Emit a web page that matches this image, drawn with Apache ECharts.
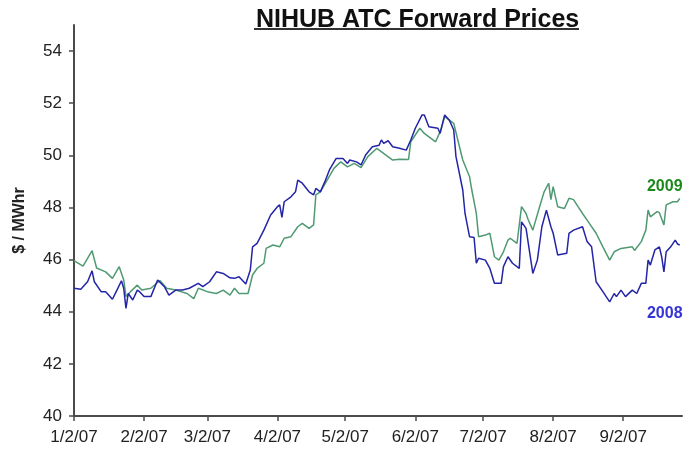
<!DOCTYPE html>
<html>
<head>
<meta charset="utf-8">
<script src="https://cdn.jsdelivr.net/npm/echarts@6/dist/echarts.min.js"></script>
<style>
  html, body { margin: 0; padding: 0; background: #fff; }
  #chart { width: 695px; height: 455px; }
</style>
</head>
<body>
<div id="chart"></div>
<script>
// tick labels
const tickDates = ['1/2/07', '2/2/07', '3/2/07', '4/2/07', '5/2/07', '6/2/07', '7/2/07', '8/2/07', '9/2/07'];
const yTicks = [40, 42, 44, 46, 48, 50, 52, 54];

// 2008 strip
const dates2008 = [
  '1/2/07', '1/5/07', '1/8/07', '1/10/07', '1/11/07', '1/14/07', '1/16/07', '1/19/07', '1/21/07', '1/23/07',
  '1/24/07', '1/25/07', '1/26/07', '1/28/07', '1/30/07', '1/31/07', '2/2/07', '2/5/07', '2/8/07', '2/11/07',
  '2/13/07', '2/16/07', '2/19/07', '2/22/07', '2/26/07', '2/28/07', '3/3/07', '3/6/07', '3/9/07', '3/12/07',
  '3/14/07', '3/16/07', '3/19/07', '3/21/07', '3/22/07', '3/24/07', '3/27/07', '3/30/07', '4/2/07', '4/3/07',
  '4/4/07', '4/5/07', '4/8/07', '4/10/07', '4/11/07', '4/13/07', '4/16/07', '4/18/07', '4/19/07', '4/21/07',
  '4/23/07', '4/25/07', '4/28/07', '5/1/07', '5/3/07', '5/4/07', '5/7/07', '5/9/07', '5/11/07', '5/14/07',
  '5/17/07', '5/18/07', '5/19/07', '5/21/07', '5/23/07', '5/26/07', '5/29/07', '5/31/07', '6/2/07', '6/5/07',
  '6/6/07', '6/8/07', '6/12/07', '6/13/07', '6/15/07', '6/17/07', '6/19/07', '6/20/07', '6/23/07', '6/24/07',
  '6/26/07', '6/28/07', '6/29/07', '6/30/07', '7/3/07', '7/5/07', '7/7/07', '7/10/07', '7/11/07', '7/13/07',
  '7/15/07', '7/18/07', '7/19/07', '7/21/07', '7/22/07', '7/24/07', '7/26/07', '7/28/07', '7/30/07', '8/1/07',
  '8/2/07', '8/4/07', '8/8/07', '8/9/07', '8/11/07', '8/15/07', '8/17/07', '8/19/07', '8/21/07', '8/24/07',
  '8/27/07', '8/29/07', '8/30/07', '9/1/07', '9/3/07', '9/6/07', '9/8/07', '9/10/07', '9/12/07', '9/13/07',
  '9/14/07', '9/16/07', '9/18/07', '9/19/07', '9/20/07', '9/21/07', '9/23/07', '9/25/07', '9/26/07', '9/27/07'
];
const price2008 = [
  44.9, 44.86, 45.15, 45.57, 45.15, 44.77, 44.77, 44.48, 44.83, 45.19,
  44.9, 44.13, 44.7, 44.45, 44.83, 44.77, 44.58, 44.58, 45.22, 44.96,
  44.64, 44.83, 44.83, 44.9, 45.09, 44.96, 45.15, 45.53, 45.47, 45.3,
  45.28, 45.34, 45.06, 45.6, 46.49, 46.62, 47.13, 47.71, 48.03, 48.1,
  47.62, 48.22, 48.41, 48.6, 49.05, 48.93, 48.6, 48.48, 48.73, 48.6,
  48.99, 49.44, 49.88, 49.88, 49.69, 49.82, 49.75, 49.63, 50.01, 50.33,
  50.39, 50.59, 50.46, 50.56, 50.33, 50.27, 50.2, 50.59, 51.04, 51.55,
  51.55, 51.1, 51.04, 50.84, 51.55, 51.36, 50.97, 49.95, 48.67, 47.77,
  46.88, 46.85, 45.86, 46.05, 45.98, 45.66, 45.09, 45.09, 45.73, 46.11,
  45.86, 45.66, 47.45, 47.2, 46.62, 45.47, 45.98, 47.26, 47.9, 47.26,
  47.01, 46.18, 46.24, 47.01, 47.13, 47.26, 46.69, 46.49, 45.15, 44.77,
  44.38, 44.7, 44.58, 44.83, 44.58, 44.83, 44.7, 45.09, 45.09, 45.98,
  45.79, 46.37, 46.49, 46.11, 45.53, 46.3, 46.49, 46.75, 46.6, 46.56
];

// 2009 strip
const dates2009 = [
  '1/2/07', '1/6/07', '1/10/07', '1/12/07', '1/16/07', '1/19/07', '1/22/07', '1/24/07', '1/25/07', '1/27/07',
  '1/30/07', '2/1/07', '2/5/07', '2/9/07', '2/12/07', '2/16/07', '2/21/07', '2/24/07', '2/26/07', '3/2/07',
  '3/6/07', '3/9/07', '3/12/07', '3/14/07', '3/16/07', '3/20/07', '3/22/07', '3/24/07', '3/27/07', '3/28/07',
  '3/31/07', '4/3/07', '4/5/07', '4/8/07', '4/11/07', '4/13/07', '4/16/07', '4/18/07', '4/19/07', '4/21/07',
  '4/24/07', '4/27/07', '4/30/07', '5/3/07', '5/6/07', '5/9/07', '5/12/07', '5/16/07', '5/20/07', '5/23/07',
  '5/26/07', '5/30/07', '5/31/07', '6/4/07', '6/6/07', '6/11/07', '6/13/07', '6/15/07', '6/19/07', '6/21/07',
  '6/23/07', '6/26/07', '6/27/07', '6/29/07', '6/30/07', '7/3/07', '7/5/07', '7/7/07', '7/9/07', '7/11/07',
  '7/13/07', '7/14/07', '7/17/07', '7/19/07', '7/21/07', '7/22/07', '7/24/07', '7/27/07', '7/29/07', '7/31/07',
  '8/1/07', '8/2/07', '8/4/07', '8/7/07', '8/9/07', '8/11/07', '8/13/07', '8/15/07', '8/18/07', '8/21/07',
  '8/24/07', '8/27/07', '8/29/07', '9/1/07', '9/6/07', '9/7/07', '9/10/07', '9/12/07', '9/13/07', '9/14/07',
  '9/17/07', '9/18/07', '9/20/07', '9/21/07', '9/24/07', '9/26/07', '9/27/07'
];
const price2009 = [
  45.96, 45.75, 46.34, 45.68, 45.53, 45.28, 45.73, 45.22, 44.58, 44.77,
  45.02, 44.83, 44.9, 45.2, 44.9, 44.83, 44.7, 44.5, 44.9, 44.77,
  44.7, 44.83, 44.64, 44.9, 44.7, 44.7, 45.41, 45.66, 45.86, 46.43,
  46.56, 46.49, 46.82, 46.88, 47.26, 47.39, 47.2, 47.33, 48.48, 48.6,
  49.05, 49.5, 49.75, 49.56, 49.69, 49.53, 49.95, 50.27, 50.01, 49.82,
  49.85, 49.84, 50.52, 51.04, 50.84, 50.52, 50.91, 51.48, 51.23, 50.52,
  49.82, 49.18, 48.67, 47.77, 46.88, 46.94, 47.01, 46.11, 45.98, 46.3,
  46.75, 46.82, 46.62, 48.03, 47.77, 47.52, 47.13, 48.03, 48.6, 48.93,
  48.3, 48.8, 48.03, 47.96, 48.35, 48.3, 48.03, 47.77, 47.39, 47.01,
  46.49, 45.98, 46.3, 46.43, 46.49, 46.35, 46.69, 47.13, 47.9, 47.64,
  47.84, 47.8, 47.33, 48.1, 48.22, 48.22, 48.35
];

// days since 1/2/07
const dayNum = (s) => {
  const [m, d, y] = s.split('/').map(Number);
  return (Date.UTC(2000 + y, m - 1, d) - Date.UTC(2007, 0, 2)) / 86400000;
};
const toPairs = (dates, vals) => dates.map((d, i) => [dayNum(d), vals[i]]);

const data2008 = toPairs(dates2008, price2008);
const data2009 = toPairs(dates2009, price2009);
const tickDays = tickDates.map(dayNum);

const chart = echarts.init(document.getElementById('chart'));

const axisColor = '#4a4a4a';
const font = 'Liberation Sans, Arial, sans-serif';

const option = {
  animation: false,
  title: {
    text: 'NIHUB ATC Forward Prices',
    left: 251,
    top: 3,
    textStyle: { fontFamily: font, fontSize: 25, fontWeight: 'bold', color: '#111' },
  },
  graphic: [
    {
      type: 'line',
      shape: { x1: 254, y1: 29, x2: 579, y2: 29 },
      style: { stroke: '#333', lineWidth: 2 },
    },
  ],
  grid: { left: 74, right: 13, top: 25, bottom: 39 },
  xAxis: {
    type: 'value',
    min: 0,
    max: 269,
    splitLine: { show: false },
    axisLine: { lineStyle: { color: axisColor, width: 2 } },
    axisTick: { customValues: tickDays, length: 5, lineStyle: { color: axisColor, width: 1.5 } },
    axisLabel: {
      customValues: tickDays,
      color: '#222',
      fontFamily: font,
      fontSize: 17,
      margin: 13,
      formatter: (v) => tickDates[tickDays.indexOf(v)] || '',
    },
  },
  yAxis: {
    type: 'value',
    min: 40,
    max: 55,
    name: '$ / MWhr',
    nameLocation: 'middle',
    nameGap: 46,
    nameTextStyle: { fontFamily: font, fontSize: 16, fontWeight: 'bold', color: '#222' },
    splitLine: { show: false },
    axisLine: { show: true, lineStyle: { color: axisColor, width: 2 } },
    axisTick: { show: true, customValues: yTicks, length: 5, lineStyle: { color: axisColor, width: 1.5 } },
    axisLabel: { customValues: yTicks, color: '#222', fontFamily: font, fontSize: 17, margin: 12 },
  },
  series: [
    {
      name: '2009',
      type: 'line',
      data: data2009,
      showSymbol: false,
      lineStyle: { color: '#4f9a72', width: 1.5 },
      itemStyle: { color: '#4f9a72' },
      markPoint: {
        symbolSize: 0,
        data: [{ coord: data2009[data2009.length - 1] }],
        label: {
          formatter: '2009',
          offset: [-15, -12],
          color: '#1b8a1b',
          fontFamily: font,
          fontSize: 16,
          fontWeight: 'bold',
        },
      },
    },
    {
      name: '2008',
      type: 'line',
      data: data2008,
      showSymbol: false,
      lineStyle: { color: '#2424a8', width: 1.5 },
      itemStyle: { color: '#2424a8' },
      markPoint: {
        symbolSize: 0,
        data: [{ coord: data2008[data2008.length - 1] }],
        label: {
          formatter: '2008',
          offset: [-15, 69],
          color: '#3434d8',
          fontFamily: font,
          fontSize: 16,
          fontWeight: 'bold',
        },
      },
    },
  ],
};

chart.setOption(option);
</script>
</body>
</html>
